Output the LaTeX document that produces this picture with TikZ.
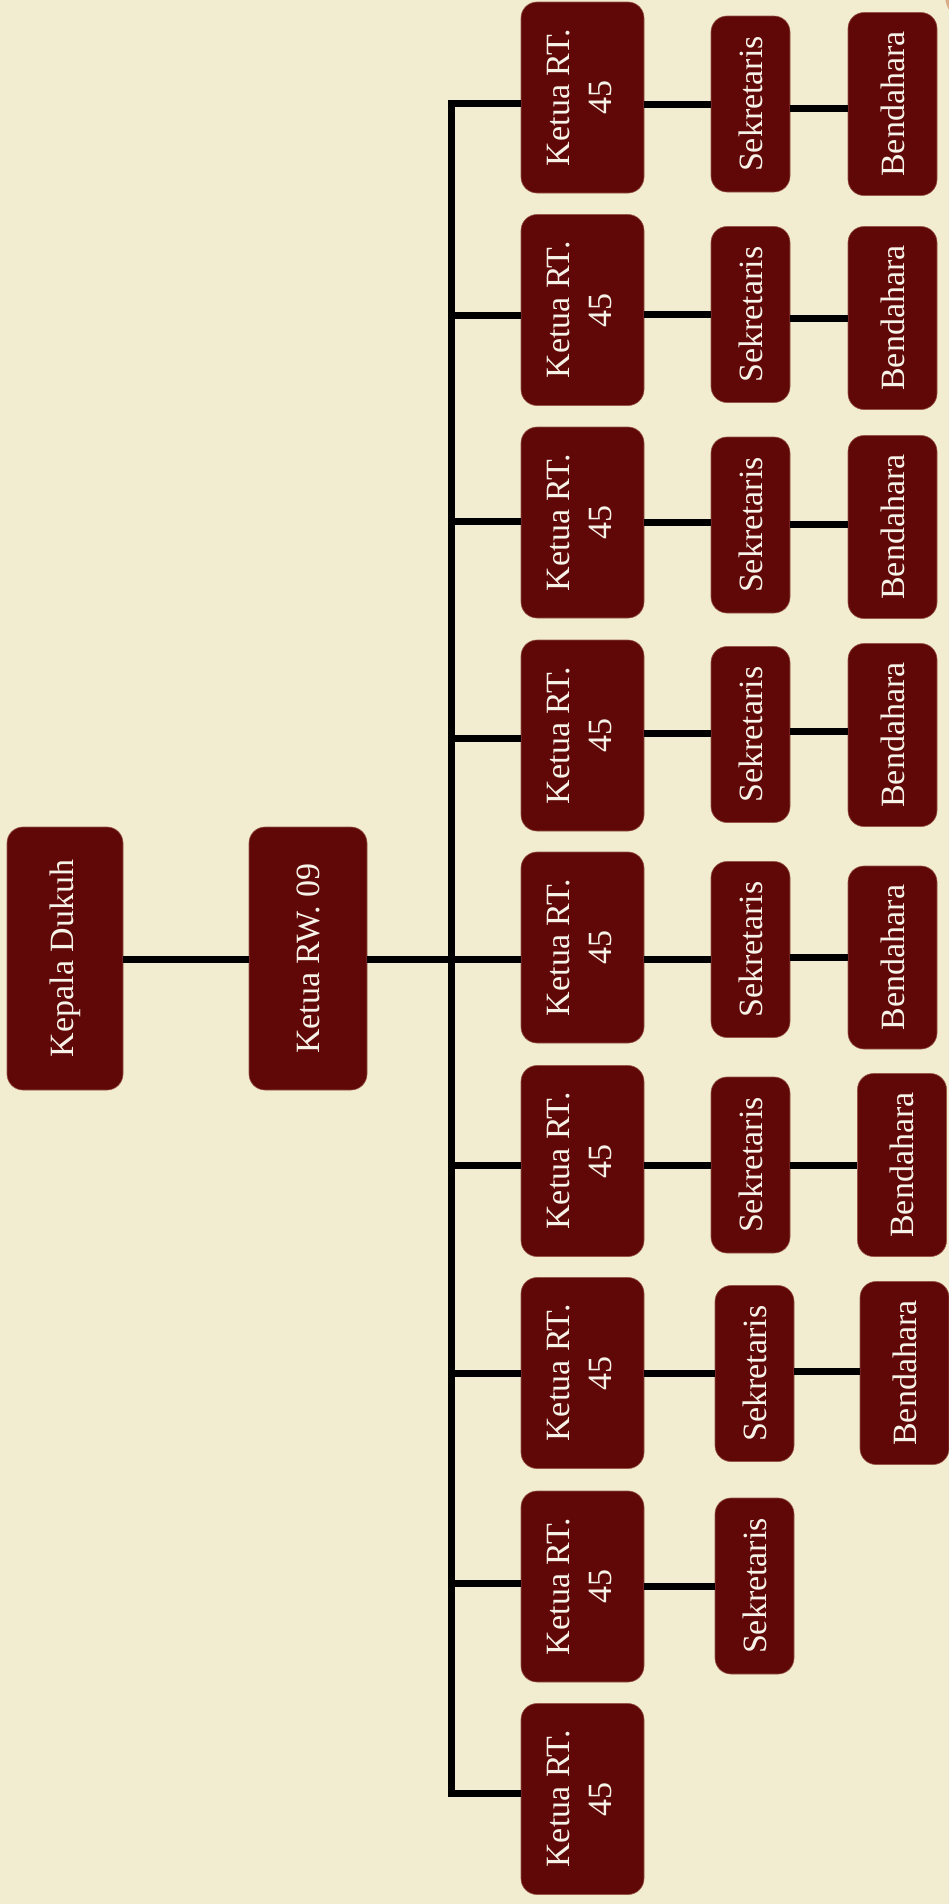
\documentclass[tikz,border=0pt]{standalone}
\usepackage{fontspec}
\setmainfont{Liberation Serif}
\definecolor{bgc}{RGB}{242,237,208}
\definecolor{boxred}{RGB}{96,8,8}
\definecolor{boxedge}{RGB}{150,85,70}
\definecolor{txtc}{RGB}{246,242,232}
\definecolor{cornertan}{RGB}{215,172,135}
\tikzset{
  orgbox/.style={fill=boxred, draw=boxedge, line width=0.6pt, rounded corners=16pt,
    inner sep=0pt, text=txtc, font=\fontsize{34}{42}\selectfont},
  topbox/.style={orgbox, minimum height=263pt},
  rtbox/.style={orgbox, minimum width=123pt, minimum height=191pt},
  skbox/.style={orgbox, minimum width=79pt, minimum height=176pt},
  bdbox/.style={orgbox, minimum width=89pt, minimum height=183pt},
  conn/.style={line width=7pt, black, line join=miter}
}
\begin{document}
\begin{tikzpicture}[x=1pt,y=-1pt]
\fill[bgc] (0,0) rectangle (949,1904);
\useasboundingbox (0,0) rectangle (949,1904);
\begin{scope}
\clip (0,0) rectangle (949,1904);
\fill[cornertan] (975,-5) circle (30);
\end{scope}

\node[topbox, minimum width=116pt] (kd) at (65,958.5) {\rotatebox{90}{Kepala Dukuh}};
\node[topbox, minimum width=118pt] (rw) at (308,958.5) {\rotatebox{90}{Ketua RW. 09}};

\foreach \i/\ry/\by in {1/97.5/103, 2/310/315, 3/522.5/521, 4/735.5/738, 5/947.5/959,
  6/1161/1165, 7/1373/1373, 8/1586.5/1583, 9/1799/1793} {
  \node[rtbox] (rt\i) at (582.5,\ry) {\rotatebox{90}{\begin{tabular}{@{}c@{}}Ketua RT.\\45\end{tabular}}};
  \coordinate (b\i) at (451,\by);
}

\draw[conn] (kd.east |- 0,959) -- (rw.west |- 0,959);
\draw[conn] (rw.east |- 0,959) -- (b5);
\draw[conn] (b1 -| rt1.west) -- (b1) -- (b9) -- (b9 -| rt9.west);
\foreach \i in {2,...,8} {
  \draw[conn] (b\i) -- (b\i -| rt\i.west);
}

\foreach \i/\sx/\sy/\ly in {1/750.5/104/104, 2/750.5/314.5/314, 3/750.5/525/522,
  4/750.5/734.5/733, 5/750.5/949.5/959, 6/750.5/1165/1165, 7/754.5/1373.5/1373,
  8/754.5/1586/1586} {
  \node[skbox] (sk\i) at (\sx,\sy) {\rotatebox{90}{Sekretaris}};
  \draw[conn] (rt\i.east |- 0,\ly) -- (sk\i.west |- 0,\ly);
}

\foreach \i/\bx/\bly/\ly in {1/892.5/104/108, 2/892.5/318/318, 3/892.5/527/524,
  4/892.5/735/731, 5/892.5/957.5/957.5, 6/902/1165/1165, 7/904.5/1373/1371} {
  \node[bdbox] (bd\i) at (\bx,\bly) {\rotatebox{90}{Bendahara}};
  \draw[conn] (sk\i.east |- 0,\ly) -- (bd\i.west |- 0,\ly);
}
\end{tikzpicture}
\end{document}
